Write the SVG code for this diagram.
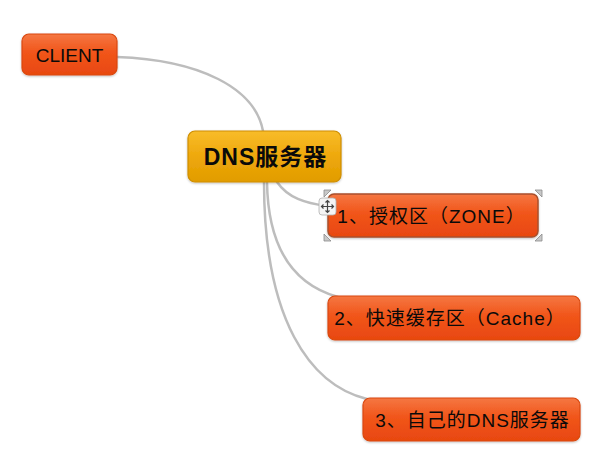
<svg xmlns="http://www.w3.org/2000/svg" width="608" height="458" viewBox="0 0 608 458">
<defs>
<linearGradient id="gOr" x1="0" y1="0" x2="0" y2="1">
<stop offset="0" stop-color="#F57742"/>
<stop offset="0.45" stop-color="#F1551A"/>
<stop offset="1" stop-color="#E84810"/>
</linearGradient>
<linearGradient id="gGo" x1="0" y1="0" x2="0" y2="1">
<stop offset="0" stop-color="#F8BC2A"/>
<stop offset="0.5" stop-color="#EEA80C"/>
<stop offset="1" stop-color="#E19C00"/>
</linearGradient>
<filter id="sh" x="-10%" y="-10%" width="120%" height="130%">
<feDropShadow dx="0" dy="1" stdDeviation="1" flood-color="#000" flood-opacity="0.25"/>
</filter>
</defs>
<style>
.conn{fill:none;stroke:#BDBDBD;stroke-width:2.5;stroke-linecap:round}
.or{fill:url(#gOr);stroke:#D9480F;stroke-width:1.2;filter:url(#sh)}
.go{fill:url(#gGo);stroke:#CF8E00;stroke-width:1.2;filter:url(#sh)}
.t{font-family:"Liberation Sans","Noto Sans CJK SC",sans-serif;font-size:19px;fill:#0A0A0A;text-anchor:middle}
.tc{letter-spacing:1px}
.tb{font-family:"Liberation Sans","Noto Sans CJK SC",sans-serif;font-size:23px;font-weight:bold;fill:#0A0A0A;text-anchor:middle;letter-spacing:1px}
.hd{fill:#C8C8C8;stroke:#8A8A8A;stroke-width:0.8}
</style>
<rect width="608" height="458" fill="#FFFFFF"/>
<g id="connectors">
<path class="conn" d="M117,57 C200,60 255,88 263,131"/>
<path class="conn" d="M277,182 C288,198 305,203 327,206"/>
<path class="conn" d="M267,182 C268,250 295,285 338,297"/>
<path class="conn" d="M264,182 C264,320 310,385 367,399"/>
</g>
<g id="client">
<rect class="or" x="22" y="34" width="95" height="41" rx="7"/>
<text class="t" x="69.5" y="62">CLIENT</text>
</g>
<g id="dns">
<rect class="go" x="188" y="131" width="153" height="51" rx="7"/>
<text class="tb" x="265.5" y="165">DNS服务器</text>
</g>
<g id="node1">
<rect class="or" x="328" y="194" width="210" height="43" rx="6" style="stroke:#A9502C;stroke-width:1.5"/>
<text class="t tc" x="431.5" y="222.5">1、授权区（ZONE）</text>
<g id="handles">
<path class="hd" d="M324,190 L331,190 L324,197 Z"/>
<path class="hd" d="M542,190 L535,190 L542,197 Z"/>
<path class="hd" d="M324,241 L331,241 L324,234 Z"/>
<path class="hd" d="M542,241 L535,241 L542,234 Z"/>
<rect x="319" y="198" width="17" height="17" rx="3" fill="#F4F4F4" stroke="#B0B0B0" stroke-width="0.8"/>
<path d="M327.5,200.5 V212.5 M321.5,206.5 H333.5 M325.5,202.5 L327.5,200.5 L329.5,202.5 M325.5,210.5 L327.5,212.5 L329.5,210.5 M323.5,204.5 L321.5,206.5 L323.5,208.5 M331.5,204.5 L333.5,206.5 L331.5,208.5" fill="none" stroke="#444" stroke-width="1.2"/>
</g>
</g>
<g id="node2">
<rect class="or" x="328" y="296" width="252" height="44" rx="7"/>
<text class="t tc" x="450" y="325">2、快速缓存区（Cache）</text>
</g>
<g id="node3">
<rect class="or" x="363" y="398" width="217" height="43" rx="7"/>
<text class="t tc" x="472.5" y="426.5">3、自己的DNS服务器</text>
</g>
</svg>
